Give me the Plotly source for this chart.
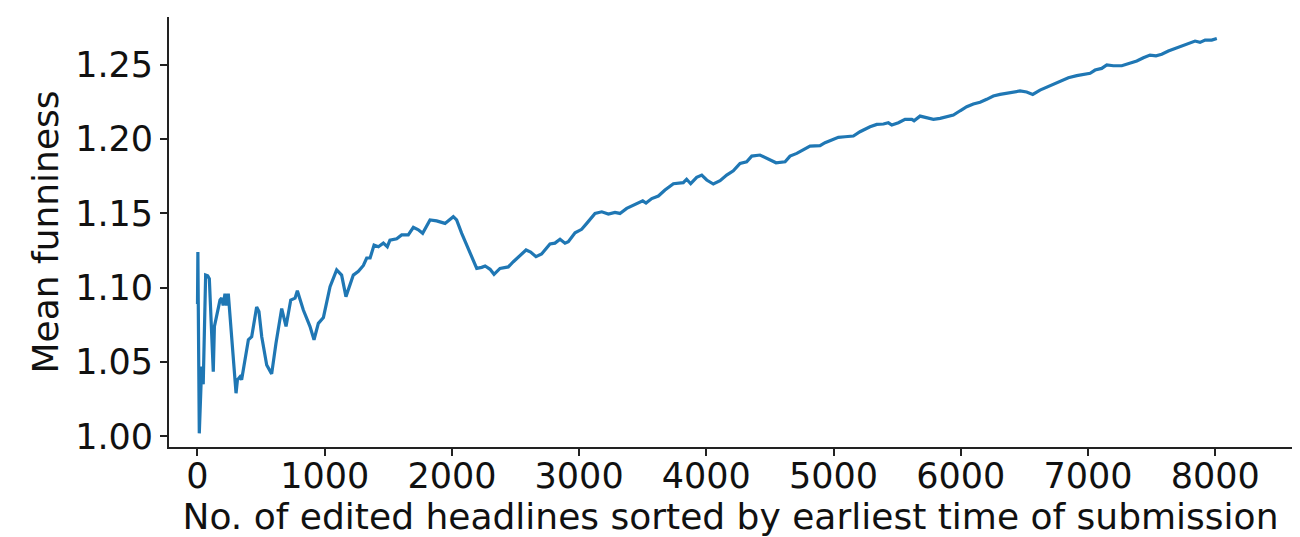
import plotly.graph_objects as go

# headline index (sorted by submission time) and running mean funniness
headlines = [
    0, 3, 6, 14, 25, 33, 45, 64, 80, 93, 100, 111, 124, 133, 150, 177, 190, 202, 216, 229,
    242, 255, 276, 303, 314, 334, 347, 400, 426, 465, 483, 505, 544, 583, 617, 662, 696, 733,
    767, 785, 832, 884, 916, 950, 990, 1042, 1094, 1133, 1167, 1225, 1265, 1304, 1330, 1357,
    1388, 1422, 1461, 1492, 1513, 1566, 1605, 1657, 1697, 1736, 1770, 1828, 1880, 1946, 2011,
    2037, 2077, 2116, 2156, 2195, 2234, 2261, 2300, 2331, 2378, 2443, 2483, 2535, 2583, 2619,
    2661, 2705, 2771, 2810, 2850, 2889, 2915, 2968, 3020, 3060, 3125, 3178, 3230, 3282, 3321,
    3374, 3439, 3500, 3526, 3571, 3623, 3675, 3741, 3819, 3845, 3877, 3924, 3964, 4003, 4055,
    4108, 4160, 4212, 4265, 4317, 4357, 4422, 4487, 4548, 4619, 4658, 4711, 4763, 4815, 4894,
    4933, 4986, 5038, 5090, 5156, 5208, 5287, 5340, 5392, 5431, 5458, 5510, 5562, 5615, 5633,
    5680, 5733, 5785, 5838, 5890, 5942, 5995, 6047, 6099, 6152, 6204, 6256, 6309, 6361, 6413,
    6466, 6518, 6566, 6623, 6702, 6781, 6846, 6912, 6964, 7017, 7056, 7108, 7148, 7200, 7266,
    7331, 7384, 7436, 7488, 7535, 7580, 7632, 7685, 7750, 7803, 7842, 7881, 7921, 7973, 8013,
]
mean_funniness = [
    1.089, 1.124, 1.090, 1.002, 1.038, 1.047, 1.035, 1.1085, 1.108, 1.106, 1.092, 1.067, 1.0435,
    1.074, 1.080, 1.0917, 1.093, 1.088, 1.096, 1.088, 1.096, 1.083, 1.056, 1.029, 1.038, 1.040,
    1.038, 1.065, 1.067, 1.087, 1.084, 1.067, 1.048, 1.042, 1.0626, 1.086, 1.074, 1.0917, 1.093,
    1.098, 1.085, 1.074, 1.065, 1.076, 1.080, 1.1007, 1.112, 1.1085, 1.094, 1.1085, 1.111, 1.115,
    1.120, 1.120, 1.1287, 1.1276, 1.130, 1.1276, 1.132, 1.133, 1.1355, 1.1355, 1.1406, 1.139,
    1.1366, 1.1456, 1.145, 1.1433, 1.1478, 1.1456, 1.1366, 1.1287, 1.121, 1.113, 1.1137, 1.1146,
    1.1124, 1.109, 1.113, 1.114, 1.1175, 1.122, 1.1254, 1.124, 1.1209, 1.1227, 1.1294, 1.130,
    1.1326, 1.130, 1.131, 1.137, 1.1393, 1.1433, 1.150, 1.1511, 1.1496, 1.1507, 1.150, 1.1534,
    1.1563, 1.1585, 1.157, 1.160, 1.1617, 1.1657, 1.170, 1.1707, 1.173, 1.170, 1.1743, 1.1758,
    1.1725, 1.1698, 1.172, 1.1758, 1.1787, 1.1837, 1.1848, 1.1886, 1.1893, 1.1864, 1.1841,
    1.1848, 1.1886, 1.1904, 1.1927, 1.1953, 1.1956, 1.1976, 1.1994, 1.2012, 1.2016, 1.2021,
    1.205, 1.2083, 1.2099, 1.2102, 1.211, 1.2095, 1.211, 1.2133, 1.2133, 1.2124, 1.2155, 1.2144,
    1.2133, 1.214, 1.2151, 1.2162, 1.2191, 1.2218, 1.2236, 1.2248, 1.2268, 1.229, 1.2301,
    1.2308, 1.2319, 1.2324, 1.2317, 1.2301, 1.233, 1.236, 1.2386, 1.2413, 1.2427, 1.2436,
    1.2443, 1.2465, 1.2476, 1.2499, 1.2494, 1.2494, 1.251, 1.2526, 1.2548, 1.2566, 1.2561,
    1.2571, 1.2593, 1.2611, 1.2629, 1.2651, 1.266, 1.2651, 1.2667, 1.2667, 1.2678,
]

x_ticks = [0, 1000, 2000, 3000, 4000, 5000, 6000, 7000, 8000]
y_ticks = [1.00, 1.05, 1.10, 1.15, 1.20, 1.25]

FONT = "DejaVu Sans"
AXIS_COLOR = "#222222"

fig = go.Figure()
fig.add_trace(go.Scatter(
    x=headlines,
    y=mean_funniness,
    mode="lines",
    line=dict(color="#1f77b4", width=3.2),
    showlegend=False,
))

# page body has an 8px margin, so margins are shifted to land the axes where the reference has them
fig.update_layout(
    width=1300,
    height=537,
    paper_bgcolor="white",
    plot_bgcolor="white",
    margin=dict(l=161, r=16, t=9, b=98),
    font=dict(family=FONT, size=34, color="#111111"),
    xaxis=dict(
        range=[-224, 8604],
        tickvals=x_ticks,
        ticktext=[str(v) for v in x_ticks],
        tickfont=dict(size=35),
        ticklabelstandoff=-10,
        showgrid=False,
        zeroline=False,
        showline=True,
        linecolor=AXIS_COLOR,
        linewidth=1.8,
        ticks="outside",
        ticklen=7,
        tickwidth=1.5,
        tickcolor=AXIS_COLOR,
        title=dict(text="No. of edited headlines sorted by earliest time of submission",
                   font=dict(size=36), standoff=9),
        automargin=False,
    ),
    yaxis=dict(
        range=[0.9928, 1.2822],
        tickvals=y_ticks,
        ticktext=[f"{v:.2f}" for v in y_ticks],
        tickfont=dict(size=35),
        ticklabelstandoff=0,
        showgrid=False,
        zeroline=False,
        showline=True,
        mirror=True,
        linecolor=AXIS_COLOR,
        linewidth=1.8,
        ticks="outside",
        ticklen=7,
        tickwidth=1.5,
        tickcolor=AXIS_COLOR,
        title=dict(text="Mean funniness", font=dict(size=36), standoff=6),
        automargin=False,
    ),
)

fig.write_html("out.html")
